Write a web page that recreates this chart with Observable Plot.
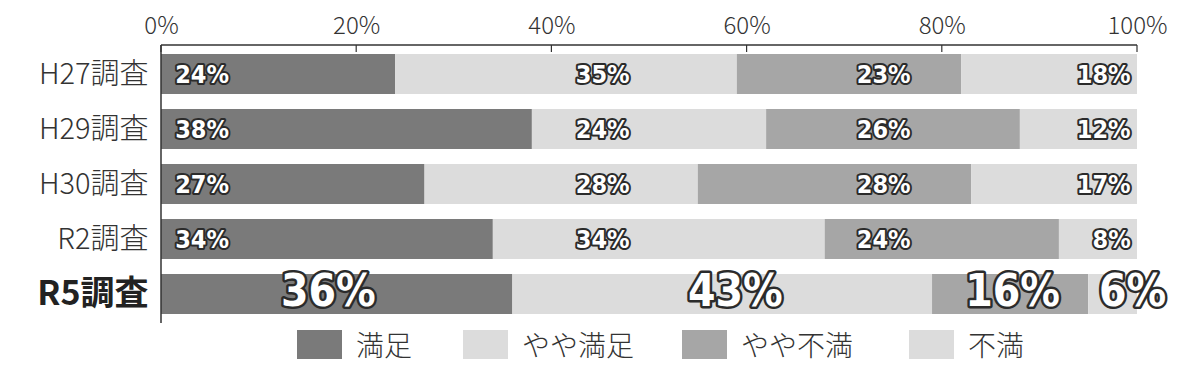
<!DOCTYPE html>
<html>
<head>
<meta charset="utf-8">
<script src="https://cdn.jsdelivr.net/npm/d3@7"></script>
<script src="https://cdn.jsdelivr.net/npm/@observablehq/plot@0.6"></script>
<style>
  html, body { margin: 0; padding: 0; background: #fff; }
  #wrap { position: relative; width: 1200px; height: 370px; overflow: hidden; }
  #legend { position: absolute; left: 0; top: 0; width: 1200px; height: 370px; pointer-events: none; }
  .sw { position: absolute; top: 330px; width: 45px; height: 29px; }
  .lt { position: absolute; top: 326px; font-family: "Noto Sans CJK JP", sans-serif; font-weight: 300; font-size: 28px; color: #333; line-height: 36px; white-space: nowrap; }
</style>
</head>
<body>
<div id="wrap"><div id="chart"></div><div id="legend"></div></div>
<script>
// ---- data ----
const surveys = ["H27調査", "H29調査", "H30調査", "R2調査", "R5調査"];
const categories = ["満足", "やや満足", "やや不満", "不満"];
const satisfied = [24, 38, 27, 34, 36];
const somewhatSatisfied = [35, 24, 28, 34, 43];
const somewhatDissatisfied = [23, 26, 28, 24, 16];
const dissatisfied = [18, 12, 17, 8, 6];
const tickValues = [0, 20, 40, 60, 80, 100];
const colors = ["#7a7a7a", "#dcdcdc", "#a6a6a6", "#dcdcdc"];

const series = [satisfied, somewhatSatisfied, somewhatDissatisfied, dissatisfied];
const rows = [];
surveys.forEach((s, i) => categories.forEach((c, j) => rows.push({survey: s, category: c, value: series[j][i]})));

// label placement (style)
const latest = surveys[surveys.length - 1];
const anchorRegular = {"満足": [1.4, "start"], "やや満足": [45.2, "middle"], "やや不満": [74.0, "middle"], "不満": [99.3, "end"]};
const anchorLatest = {"満足": [17.1, "middle"], "やや満足": [58.8, "middle"], "やや不満": [87.2, "middle"], "不満": [99.5, "middle"]};
const labels = rows.map(d => {
  const a = (d.survey === latest ? anchorLatest : anchorRegular)[d.category];
  return {...d, lx: a[0], anchor: a[1], text: d.value + "%"};
});
const labelStyle = {fill: "white", stroke: "#2b2b2b", strokeWidth: 4, paintOrder: "stroke", fontWeight: "bold", fontFamily: "'DejaVu Sans Condensed', 'DejaVu Sans', sans-serif"};

const plot = Plot.plot({
  width: 1200,
  height: 325,
  marginLeft: 161,
  marginRight: 63,
  marginTop: 45,
  marginBottom: 9,
  style: {fontFamily: "'Noto Sans CJK JP', sans-serif", background: "white"},
  x: {domain: [0, 100]},
  y: {domain: surveys, range: [53, 316], paddingInner: 0.27, paddingOuter: 0, axis: null},
  color: {domain: categories, range: colors},
  marks: [
    Plot.barX(rows, Plot.stackX({order: categories}, {x: "value", y: "survey", fill: "category", clip: true})),
    Plot.axisX({anchor: "top", ticks: tickValues, tickFormat: d => d + "%", tickSize: 0, tickPadding: 12, fontSize: 24, fontWeight: 300, fill: "#333", label: null}),
    Plot.text(labels.filter(d => d.survey !== latest && d.anchor === "start"), {x: "lx", y: "survey", text: "text", textAnchor: "start", fontSize: 25, ...labelStyle}),
    Plot.text(labels.filter(d => d.survey !== latest && d.anchor === "middle"), {x: "lx", y: "survey", text: "text", textAnchor: "middle", fontSize: 25, ...labelStyle}),
    Plot.text(labels.filter(d => d.survey !== latest && d.anchor === "end"), {x: "lx", y: "survey", text: "text", textAnchor: "end", fontSize: 25, ...labelStyle}),
    Plot.text(labels.filter(d => d.survey === latest), {x: "lx", y: "survey", text: "text", textAnchor: "middle", fontSize: 44, dy: -3, ...labelStyle, strokeWidth: 5}),
    Plot.text(surveys.filter(s => s !== latest), {x: () => 0, y: d => d, text: d => d, textAnchor: "end", dx: -13, fontSize: 29, fontWeight: 300, fill: "#333"}),
    Plot.text([latest], {x: () => 0, y: d => d, text: d => d, textAnchor: "end", dx: -13, fontSize: 34, fontWeight: "bold", fill: "#222"})
  ]
});
document.getElementById("chart").appendChild(plot);

// axis line, ticks and left line using the plot's x scale
const xs = plot.scale("x");
const svg = d3.select(plot);
const axisY = 45;
svg.append("line").attr("x1", xs.apply(0)).attr("x2", xs.apply(100)).attr("y1", axisY).attr("y2", axisY).attr("stroke", "#333").attr("stroke-width", 1.5);
tickValues.forEach(t => svg.append("line").attr("x1", xs.apply(t)).attr("x2", xs.apply(t)).attr("y1", axisY).attr("y2", axisY + 7).attr("stroke", "#333").attr("stroke-width", 1.2));
svg.append("line").attr("x1", xs.apply(0)).attr("x2", xs.apply(0)).attr("y1", axisY).attr("y2", 323).attr("stroke", "#333").attr("stroke-width", 1.5);

// legend
const legend = document.getElementById("legend");
const legendLeft = [297, 463, 682, 909];
categories.forEach((c, i) => {
  const sw = document.createElement("div");
  sw.className = "sw"; sw.style.left = legendLeft[i] + "px"; sw.style.background = colors[i];
  legend.appendChild(sw);
  const t = document.createElement("div");
  t.className = "lt"; t.style.left = (legendLeft[i] + 59) + "px"; t.textContent = c;
  legend.appendChild(t);
});
</script>
</body>
</html>
